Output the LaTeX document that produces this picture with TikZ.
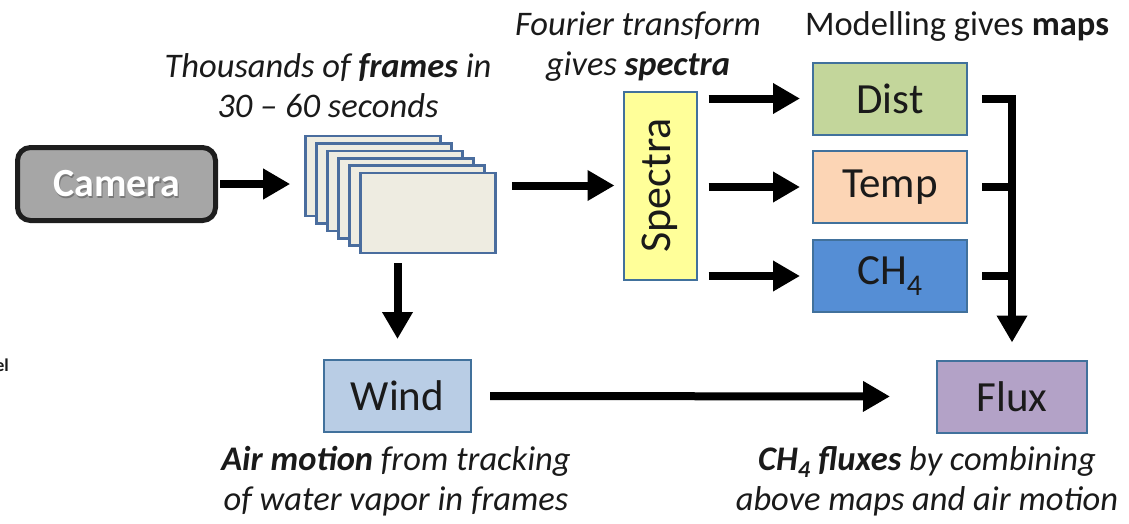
\documentclass[tikz,border=0pt]{standalone}
\usepackage{fontspec}
\setmainfont{Carlito}
\usetikzlibrary{arrows.meta,calc}

\definecolor{boxline}{HTML}{41719C}
\definecolor{frameline}{HTML}{4A6D9E}
\definecolor{framefill}{HTML}{EEECE1}
\definecolor{camfill}{HTML}{A6A6A6}
\definecolor{camline}{HTML}{1E1E1E}
\definecolor{specfill}{HTML}{FFFF99}
\definecolor{distfill}{HTML}{C3D69B}
\definecolor{tempfill}{HTML}{FCD5B5}
\definecolor{chfill}{HTML}{558ED5}
\definecolor{windfill}{HTML}{B9CDE5}
\definecolor{fluxfill}{HTML}{B3A2C7}
\definecolor{inktext}{HTML}{1A1A1A}

\tikzset{
  mapbox/.style={draw=boxline, line width=2pt, minimum width=154pt, minimum height=72pt,
    inner sep=0pt, font=\fontsize{43}{48}\selectfont, text=inktext},
  framebox/.style={draw=frameline, line width=2.6pt, fill=framefill,
    minimum width=135pt, minimum height=80pt, inner sep=0pt},
  flow/.style={line width=8pt, -{Triangle[length=27pt, width=29pt]}},
  busline/.style={line width=8pt},
  % anchored at the baseline of the last line
  caption/.style={font=\fontsize{34.5}{40}\selectfont\itshape, align=center, text=inktext,
    inner sep=0pt, anchor=base},
}

\begin{document}
\begin{tikzpicture}[x=1pt, y=-1pt]
\useasboundingbox (0,0) rectangle (1129,523);

% camera
\node[draw=camline, line width=5pt, fill=camfill, rounded corners=13pt,
      minimum width=198pt, minimum height=73pt] (camera) at (116.5,184) {};
\node[text=black!75, opacity=0.45, font=\fontsize{40}{44}\selectfont\bfseries]
      (camshadow) at ($(camera.center)+(1.5,2)$) {Camera};
\node[text=white, font=\fontsize{40}{44}\selectfont\bfseries] (camlabel) at (camera.center) {Camera};

% stack of frames, back to front
\foreach \i in {0,...,4} {
  \node[framebox] (f\i) at ({373+11*\i},{176+7.4*\i}) {};
}
\node[framebox] (frames) at (428,213) {};

% spectra
\node[draw=boxline, line width=2pt, fill=specfill, minimum width=73pt, minimum height=188pt,
      inner sep=0pt] (spectra) at (660,185.5) {};
\node[rotate=90, font=\fontsize{44}{48}\selectfont, text=inktext] (speclabel) at (spectra.center) {Spectra};

% maps
\node[mapbox, fill=distfill] (dist) at (890,98.5) {Dist};
\node[mapbox, fill=tempfill] (temp) at (890,187) {Temp};
\node[mapbox, fill=chfill]   (ch4)  at (890,276) {CH\textsubscript{4}};

% wind and flux
\node[mapbox, fill=windfill, minimum width=147pt] (wind) at (397.5,396) {Wind};
\node[mapbox, fill=fluxfill, minimum width=150pt] (flux) at (1012,396.5) {Flux};

% connectors
\draw[flow, shorten <=2pt, shorten >=14pt] (camera.east) -- (camera.east -| f0.west);
\draw[flow, shorten <=15pt, shorten >=8pt] (frames.east |- spectra.west) -- (spectra.west);
\draw[flow, shorten <=11pt, shorten >=12pt] (spectra.east |- dist.west) -- (dist.west);
\draw[flow, shorten <=11pt, shorten >=12pt] (spectra.east |- temp.west) -- (temp.west);
\draw[flow, shorten <=11pt, shorten >=12pt] (spectra.east |- ch4.west) -- (ch4.west);
\draw[busline, shorten <=14pt] (temp.east) -- (temp.east -| flux.north);
\draw[busline, shorten <=14pt] (ch4.east) -- (ch4.east -| flux.north);
\draw[flow, shorten <=14pt, shorten >=17pt] (dist.east) -| (flux.north);
\draw[flow, shorten <=9pt, shorten >=20pt] (wind.north |- frames.south) -- (wind.north);
\draw[flow, shorten <=18pt, shorten >=46pt] (wind.east) -- (flux.west);

% captions
\node[caption] (capframes) at (328,117) {Thousands of \textbf{frames} in\\30 -- 60 seconds};
\node[caption] (capfourier) at (638,75) {Fourier transform\\gives \textbf{spectra}};
\node[caption, font=\fontsize{34.5}{40}\selectfont\upshape] (capmodel) at (957,35) {Modelling gives \textbf{maps}};
\node[caption] (capwind) at (396,510) {\textbf{Air motion} from tracking\\of water vapor in frames};
\node[caption] (capflux) at (927,510) {\textbf{CH\textsubscript{4} fluxes} by combining\\above maps and air motion};

% clipped fragment at the left edge
\node[font=\fontsize{18}{20}\selectfont\bfseries, text=inktext, anchor=base east, inner sep=0pt] (edge) at (9,371) {el};
\end{tikzpicture}
\end{document}
